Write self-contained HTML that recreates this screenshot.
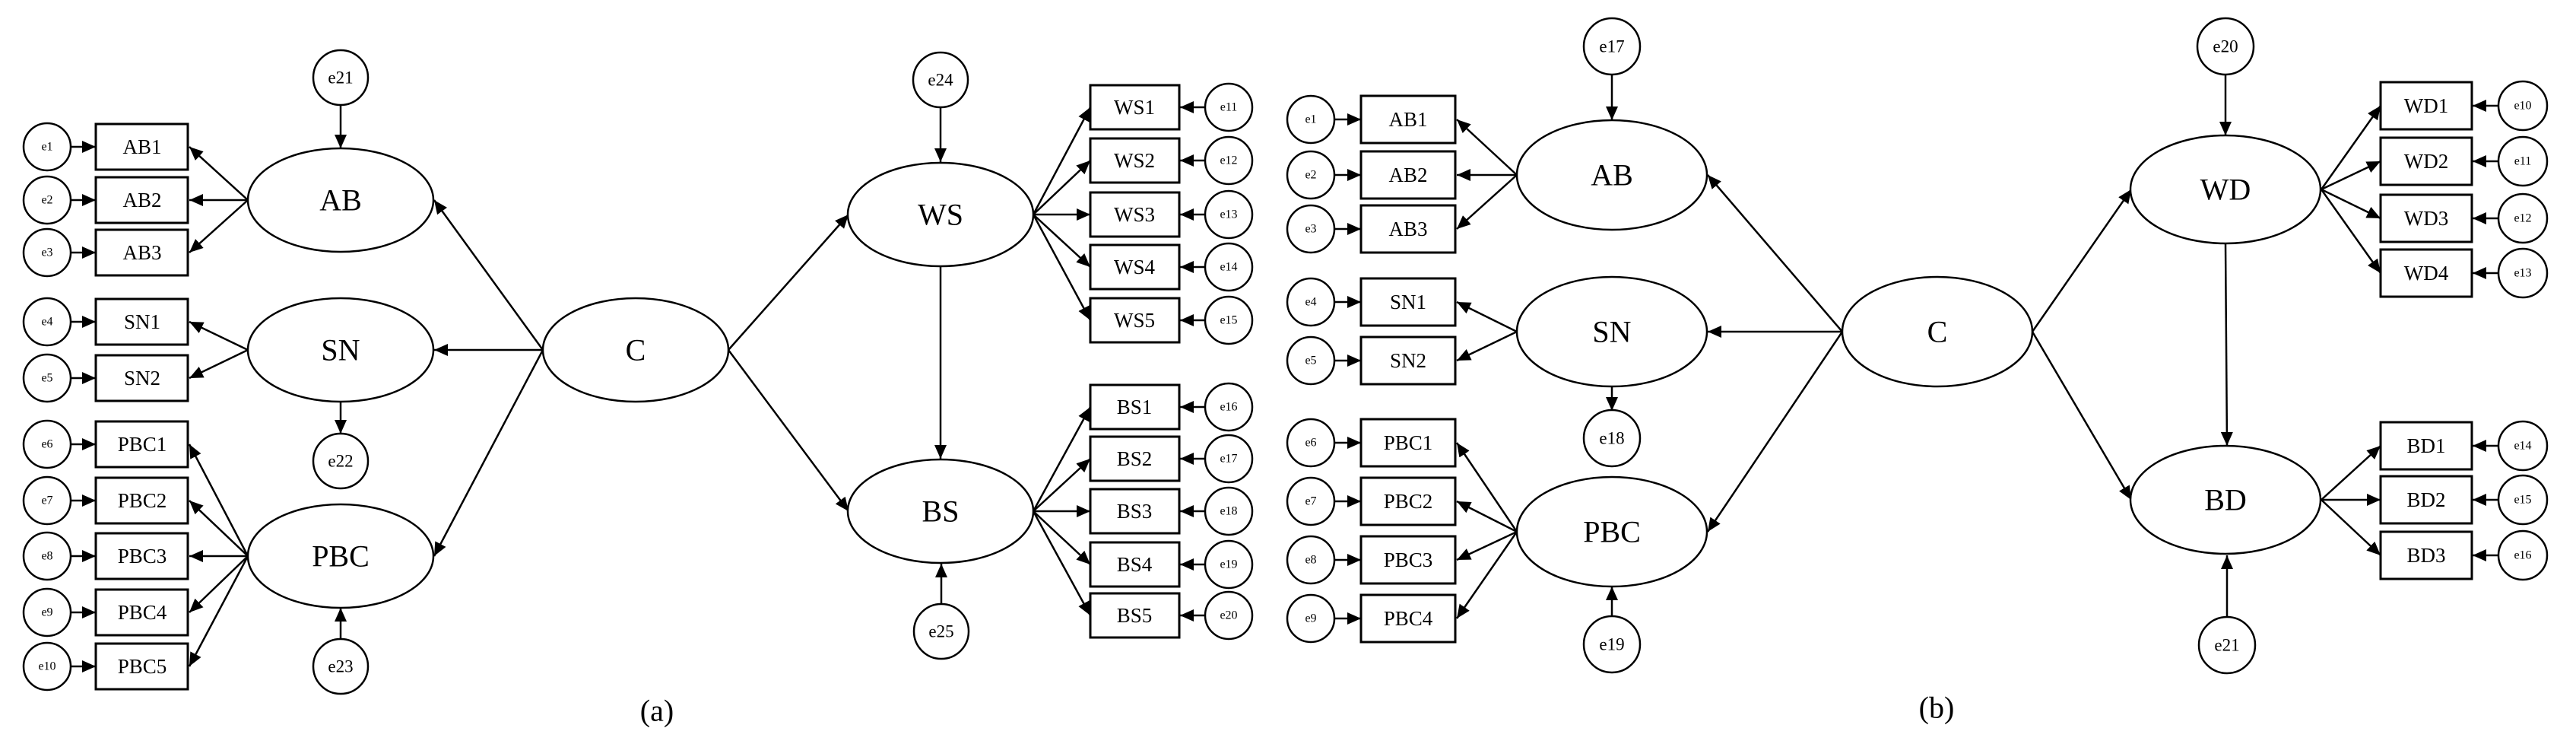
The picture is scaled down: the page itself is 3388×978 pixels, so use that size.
<!DOCTYPE html>
<html><head><meta charset="utf-8"><style>
html,body{margin:0;padding:0;background:#fff;}
svg{display:block;font-family:"Liberation Serif","DejaVu Serif",serif;}
svg text{font-family:"Liberation Serif","DejaVu Serif",serif;fill:#000;text-anchor:middle;dominant-baseline:central;}
.l{font-size:40px}.b{font-size:27px}.s{font-size:16px}.m{font-size:23px}.cap{font-size:40px}
ellipse,circle,rect{fill:#fff;stroke:#000;stroke-width:2.5}
rect{stroke-width:3}
line{stroke:#000;stroke-width:2.5;marker-end:url(#a)}
</style></head><body>
<svg width="3388" height="978" viewBox="0 0 3388 978" xmlns="http://www.w3.org/2000/svg" font-family="Liberation Serif, serif">
<defs><marker id="a" markerUnits="userSpaceOnUse" markerWidth="20" markerHeight="16" refX="18" refY="8" orient="auto"><path d="M0,0 L18,8 L0,16 z" fill="#000"/></marker></defs>

<g>
<line x1="93" y1="193" x2="126" y2="193"/><line x1="93" y1="263" x2="126" y2="263"/><line x1="93" y1="332" x2="126" y2="332"/>
<line x1="93" y1="423" x2="126" y2="423"/><line x1="93" y1="497" x2="126" y2="497"/>
<line x1="93" y1="584" x2="126" y2="584"/><line x1="93" y1="658" x2="126" y2="658"/><line x1="93" y1="731" x2="126" y2="731"/><line x1="93" y1="805" x2="126" y2="805"/><line x1="93" y1="876" x2="126" y2="876"/>
<circle cx="62" cy="193" r="31"/><text class="s" x="62" y="193">e1</text>
<circle cx="62" cy="263" r="31"/><text class="s" x="62" y="263">e2</text>
<circle cx="62" cy="332" r="31"/><text class="s" x="62" y="332">e3</text>
<circle cx="62" cy="423" r="31"/><text class="s" x="62" y="423">e4</text>
<circle cx="62" cy="497" r="31"/><text class="s" x="62" y="497">e5</text>
<circle cx="62" cy="584" r="31"/><text class="s" x="62" y="584">e6</text>
<circle cx="62" cy="658" r="31"/><text class="s" x="62" y="658">e7</text>
<circle cx="62" cy="731" r="31"/><text class="s" x="62" y="731">e8</text>
<circle cx="62" cy="805" r="31"/><text class="s" x="62" y="805">e9</text>
<circle cx="62" cy="876" r="31"/><text class="s" x="62" y="876">e10</text>
<rect x="126" y="163" width="121" height="60"/><text class="b" x="187" y="193">AB1</text>
<rect x="126" y="233" width="121" height="60"/><text class="b" x="187" y="263">AB2</text>
<rect x="126" y="302" width="121" height="60"/><text class="b" x="187" y="332">AB3</text>
<rect x="126" y="393" width="121" height="60"/><text class="b" x="187" y="423">SN1</text>
<rect x="126" y="467" width="121" height="60"/><text class="b" x="187" y="497">SN2</text>
<rect x="126" y="554" width="121" height="60"/><text class="b" x="187" y="584">PBC1</text>
<rect x="126" y="628" width="121" height="60"/><text class="b" x="187" y="658">PBC2</text>
<rect x="126" y="701" width="121" height="60"/><text class="b" x="187" y="731">PBC3</text>
<rect x="126" y="775" width="121" height="60"/><text class="b" x="187" y="805">PBC4</text>
<rect x="126" y="846" width="121" height="60"/><text class="b" x="187" y="876">PBC5</text>
<line x1="326" y1="263" x2="249" y2="193"/><line x1="326" y1="263" x2="249" y2="263"/><line x1="326" y1="263" x2="249" y2="332"/>
<line x1="326" y1="460" x2="249" y2="423"/><line x1="326" y1="460" x2="249" y2="497"/>
<line x1="326" y1="731" x2="249" y2="584"/><line x1="326" y1="731" x2="249" y2="658"/><line x1="326" y1="731" x2="249" y2="731"/><line x1="326" y1="731" x2="249" y2="805"/><line x1="326" y1="731" x2="249" y2="876"/>
<line x1="448" y1="138" x2="448" y2="195"/>
<line x1="448" y1="528" x2="448" y2="570"/>
<line x1="448" y1="840" x2="448" y2="799"/>
<line x1="714" y1="460" x2="571" y2="263"/><line x1="714" y1="460" x2="571" y2="460"/><line x1="714" y1="460" x2="571" y2="731"/>
<ellipse cx="448" cy="263" rx="122" ry="68"/><text class="l" x="448" y="263">AB</text>
<ellipse cx="448" cy="460" rx="122" ry="68"/><text class="l" x="448" y="460">SN</text>
<ellipse cx="448" cy="731" rx="122" ry="68"/><text class="l" x="448" y="731">PBC</text>
<circle cx="448" cy="102" r="36"/><text class="m" x="448" y="102">e21</text>
<circle cx="448" cy="606" r="36"/><text class="m" x="448" y="606">e22</text>
<circle cx="448" cy="876" r="36"/><text class="m" x="448" y="876">e23</text>
<ellipse cx="836" cy="460" rx="122" ry="68"/><text class="l" x="836" y="460">C</text>
<line x1="958" y1="460" x2="1116" y2="282"/><line x1="958" y1="460" x2="1116" y2="672"/>
<line x1="1237" y1="141" x2="1237" y2="213"/>
<line x1="1237" y1="350" x2="1237" y2="603"/>
<line x1="1238" y1="794" x2="1238" y2="741"/>
<ellipse cx="1237" cy="282" rx="122" ry="68"/><text class="l" x="1237" y="282">WS</text>
<ellipse cx="1237" cy="672" rx="122" ry="68"/><text class="l" x="1237" y="672">BS</text>
<circle cx="1237" cy="105" r="36"/><text class="m" x="1237" y="105">e24</text>
<circle cx="1238" cy="830" r="36"/><text class="m" x="1238" y="830">e25</text>
<line x1="1359" y1="282" x2="1434" y2="141"/><line x1="1359" y1="282" x2="1434" y2="211"/><line x1="1359" y1="282" x2="1434" y2="282"/><line x1="1359" y1="282" x2="1434" y2="351"/><line x1="1359" y1="282" x2="1434" y2="421"/>
<line x1="1359" y1="672" x2="1434" y2="535"/><line x1="1359" y1="672" x2="1434" y2="603"/><line x1="1359" y1="672" x2="1434" y2="672"/><line x1="1359" y1="672" x2="1434" y2="742"/><line x1="1359" y1="672" x2="1434" y2="809"/>
<rect x="1434" y="112" width="117" height="58"/><text class="b" x="1492" y="141">WS1</text>
<rect x="1434" y="182" width="117" height="58"/><text class="b" x="1492" y="211">WS2</text>
<rect x="1434" y="253" width="117" height="58"/><text class="b" x="1492" y="282">WS3</text>
<rect x="1434" y="322" width="117" height="58"/><text class="b" x="1492" y="351">WS4</text>
<rect x="1434" y="392" width="117" height="58"/><text class="b" x="1492" y="421">WS5</text>
<rect x="1434" y="506" width="117" height="58"/><text class="b" x="1492" y="535">BS1</text>
<rect x="1434" y="574" width="117" height="58"/><text class="b" x="1492" y="603">BS2</text>
<rect x="1434" y="643" width="117" height="58"/><text class="b" x="1492" y="672">BS3</text>
<rect x="1434" y="713" width="117" height="58"/><text class="b" x="1492" y="742">BS4</text>
<rect x="1434" y="780" width="117" height="58"/><text class="b" x="1492" y="809">BS5</text>
<line x1="1585" y1="141" x2="1552" y2="141"/><line x1="1585" y1="211" x2="1552" y2="211"/><line x1="1585" y1="282" x2="1552" y2="282"/><line x1="1585" y1="351" x2="1552" y2="351"/><line x1="1585" y1="421" x2="1552" y2="421"/>
<line x1="1585" y1="535" x2="1552" y2="535"/><line x1="1585" y1="603" x2="1552" y2="603"/><line x1="1585" y1="672" x2="1552" y2="672"/><line x1="1585" y1="742" x2="1552" y2="742"/><line x1="1585" y1="809" x2="1552" y2="809"/>
<circle cx="1616" cy="141" r="31"/><text class="s" x="1616" y="141">e11</text>
<circle cx="1616" cy="211" r="31"/><text class="s" x="1616" y="211">e12</text>
<circle cx="1616" cy="282" r="31"/><text class="s" x="1616" y="282">e13</text>
<circle cx="1616" cy="351" r="31"/><text class="s" x="1616" y="351">e14</text>
<circle cx="1616" cy="421" r="31"/><text class="s" x="1616" y="421">e15</text>
<circle cx="1616" cy="535" r="31"/><text class="s" x="1616" y="535">e16</text>
<circle cx="1616" cy="603" r="31"/><text class="s" x="1616" y="603">e17</text>
<circle cx="1616" cy="672" r="31"/><text class="s" x="1616" y="672">e18</text>
<circle cx="1616" cy="742" r="31"/><text class="s" x="1616" y="742">e19</text>
<circle cx="1616" cy="809" r="31"/><text class="s" x="1616" y="809">e20</text>
<text class="cap" x="864" y="934">(a)</text>
</g>

<g>
<line x1="1755" y1="157" x2="1790" y2="157"/><line x1="1755" y1="230" x2="1790" y2="230"/><line x1="1755" y1="301" x2="1790" y2="301"/>
<line x1="1755" y1="397" x2="1790" y2="397"/><line x1="1755" y1="474" x2="1790" y2="474"/>
<line x1="1755" y1="582" x2="1790" y2="582"/><line x1="1755" y1="659" x2="1790" y2="659"/><line x1="1755" y1="736" x2="1790" y2="736"/><line x1="1755" y1="813" x2="1790" y2="813"/>
<circle cx="1724" cy="157" r="31"/><text class="s" x="1724" y="157">e1</text>
<circle cx="1724" cy="230" r="31"/><text class="s" x="1724" y="230">e2</text>
<circle cx="1724" cy="301" r="31"/><text class="s" x="1724" y="301">e3</text>
<circle cx="1724" cy="397" r="31"/><text class="s" x="1724" y="397">e4</text>
<circle cx="1724" cy="474" r="31"/><text class="s" x="1724" y="474">e5</text>
<circle cx="1724" cy="582" r="31"/><text class="s" x="1724" y="582">e6</text>
<circle cx="1724" cy="659" r="31"/><text class="s" x="1724" y="659">e7</text>
<circle cx="1724" cy="736" r="31"/><text class="s" x="1724" y="736">e8</text>
<circle cx="1724" cy="813" r="31"/><text class="s" x="1724" y="813">e9</text>
<rect x="1790" y="126" width="124" height="62"/><text class="b" x="1852" y="157">AB1</text>
<rect x="1790" y="199" width="124" height="62"/><text class="b" x="1852" y="230">AB2</text>
<rect x="1790" y="270" width="124" height="62"/><text class="b" x="1852" y="301">AB3</text>
<rect x="1790" y="366" width="124" height="62"/><text class="b" x="1852" y="397">SN1</text>
<rect x="1790" y="443" width="124" height="62"/><text class="b" x="1852" y="474">SN2</text>
<rect x="1790" y="551" width="124" height="62"/><text class="b" x="1852" y="582">PBC1</text>
<rect x="1790" y="628" width="124" height="62"/><text class="b" x="1852" y="659">PBC2</text>
<rect x="1790" y="705" width="124" height="62"/><text class="b" x="1852" y="736">PBC3</text>
<rect x="1790" y="782" width="124" height="62"/><text class="b" x="1852" y="813">PBC4</text>
<line x1="1995" y1="230" x2="1916" y2="157"/><line x1="1995" y1="230" x2="1916" y2="230"/><line x1="1995" y1="230" x2="1916" y2="301"/>
<line x1="1995" y1="436" x2="1916" y2="397"/><line x1="1995" y1="436" x2="1916" y2="474"/>
<line x1="1995" y1="699" x2="1916" y2="582"/><line x1="1995" y1="699" x2="1916" y2="659"/><line x1="1995" y1="699" x2="1916" y2="736"/><line x1="1995" y1="699" x2="1916" y2="813"/>
<line x1="2120" y1="98" x2="2120" y2="158"/>
<line x1="2120" y1="508" x2="2120" y2="540"/>
<line x1="2120" y1="810" x2="2120" y2="771"/>
<line x1="2423" y1="436" x2="2246" y2="230"/><line x1="2423" y1="436" x2="2246" y2="436"/><line x1="2423" y1="436" x2="2246" y2="699"/>
<ellipse cx="2120" cy="230" rx="125" ry="72"/><text class="l" x="2120" y="230">AB</text>
<ellipse cx="2120" cy="436" rx="125" ry="72"/><text class="l" x="2120" y="436">SN</text>
<ellipse cx="2120" cy="699" rx="125" ry="72"/><text class="l" x="2120" y="699">PBC</text>
<circle cx="2120" cy="61" r="37"/><text class="m" x="2120" y="61">e17</text>
<circle cx="2120" cy="576" r="37"/><text class="m" x="2120" y="576">e18</text>
<circle cx="2120" cy="847" r="37"/><text class="m" x="2120" y="847">e19</text>
<ellipse cx="2548" cy="436" rx="125" ry="72"/><text class="l" x="2548" y="436">C</text>
<line x1="2673" y1="436" x2="2803" y2="249"/><line x1="2673" y1="436" x2="2803" y2="657"/>
<line x1="2927" y1="98" x2="2927" y2="178"/>
<line x1="2927" y1="320" x2="2929" y2="586"/>
<line x1="2929" y1="811" x2="2929" y2="730"/>
<ellipse cx="2927" cy="249" rx="125" ry="71"/><text class="l" x="2927" y="249">WD</text>
<ellipse cx="2927" cy="657" rx="125" ry="71"/><text class="l" x="2927" y="657">BD</text>
<circle cx="2927" cy="61" r="37"/><text class="m" x="2927" y="61">e20</text>
<circle cx="2929" cy="848" r="37"/><text class="m" x="2929" y="848">e21</text>
<line x1="3053" y1="249" x2="3131" y2="139"/><line x1="3053" y1="249" x2="3131" y2="212"/><line x1="3053" y1="249" x2="3131" y2="287"/><line x1="3053" y1="249" x2="3131" y2="359"/>
<line x1="3053" y1="657" x2="3131" y2="586"/><line x1="3053" y1="657" x2="3131" y2="657"/><line x1="3053" y1="657" x2="3131" y2="730"/>
<rect x="3131" y="108" width="120" height="62"/><text class="b" x="3191" y="139">WD1</text>
<rect x="3131" y="181" width="120" height="62"/><text class="b" x="3191" y="212">WD2</text>
<rect x="3131" y="256" width="120" height="62"/><text class="b" x="3191" y="287">WD3</text>
<rect x="3131" y="328" width="120" height="62"/><text class="b" x="3191" y="359">WD4</text>
<rect x="3131" y="555" width="120" height="62"/><text class="b" x="3191" y="586">BD1</text>
<rect x="3131" y="626" width="120" height="62"/><text class="b" x="3191" y="657">BD2</text>
<rect x="3131" y="699" width="120" height="62"/><text class="b" x="3191" y="730">BD3</text>
<line x1="3286" y1="139" x2="3252" y2="139"/><line x1="3286" y1="212" x2="3252" y2="212"/><line x1="3286" y1="287" x2="3252" y2="287"/><line x1="3286" y1="359" x2="3252" y2="359"/>
<line x1="3286" y1="586" x2="3252" y2="586"/><line x1="3286" y1="657" x2="3252" y2="657"/><line x1="3286" y1="730" x2="3252" y2="730"/>
<circle cx="3318" cy="139" r="32"/><text class="s" x="3318" y="139">e10</text>
<circle cx="3318" cy="212" r="32"/><text class="s" x="3318" y="212">e11</text>
<circle cx="3318" cy="287" r="32"/><text class="s" x="3318" y="287">e12</text>
<circle cx="3318" cy="359" r="32"/><text class="s" x="3318" y="359">e13</text>
<circle cx="3318" cy="586" r="32"/><text class="s" x="3318" y="586">e14</text>
<circle cx="3318" cy="657" r="32"/><text class="s" x="3318" y="657">e15</text>
<circle cx="3318" cy="730" r="32"/><text class="s" x="3318" y="730">e16</text>
<text class="cap" x="2547" y="930">(b)</text>
</g>
</svg>
</body></html>
